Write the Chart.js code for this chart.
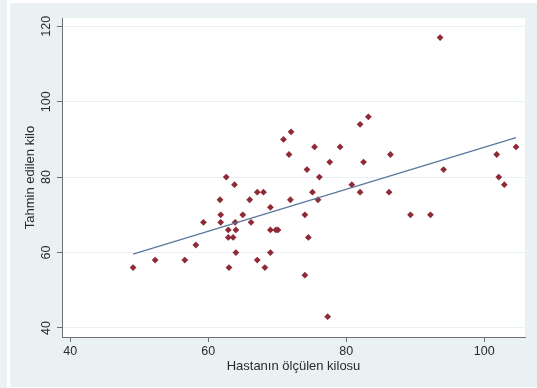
<!DOCTYPE html>
<html>
<head>
<meta charset="utf-8">
<script src="https://cdn.jsdelivr.net/npm/chart.js@4.4.1/dist/chart.umd.min.js"></script>
<style>
  html, body { margin: 0; padding: 0; background: #ffffff; }
  canvas { display: block; }
</style>
</head>
<body>
<canvas id="myChart" width="537" height="388"></canvas>
<script>
// measured weight (x) and estimated weight (y) for each patient
var olculenKilo = [
  49.1, 52.3, 56.6, 58.2, 59.3, 61.7, 61.8, 61.8, 62.6, 62.9,
  62.9, 63.0, 63.6, 63.8, 63.9, 64.0, 64.0, 65.0, 66.0, 66.2,
  67.1, 67.1, 68.0, 68.2, 69.0, 69.0, 69.0, 69.8, 70.1, 70.9,
  71.7, 72.0, 71.9, 74.0, 74.0, 74.3, 74.5, 75.1, 75.4, 75.9,
  76.1, 77.3, 77.6, 79.1, 80.8, 82.0, 82.0, 82.5, 83.2, 86.2,
  86.4, 89.3, 92.2, 93.6, 94.1, 101.8, 102.1, 102.9, 104.6
];
var tahminKilo = [
  56, 58, 58, 62, 68, 74, 70, 68, 80, 66,
  64, 56, 64, 78, 68, 66, 60, 70, 74, 68,
  76, 58, 76, 56, 72, 66, 60, 66, 66, 90,
  86, 92, 74, 70, 54, 82, 64, 76, 88, 74,
  80, 43, 84, 88, 78, 94, 76, 84, 96, 76,
  86, 70, 70, 117, 82, 86, 80, 78, 88
];

// fitted line end points
var fitX = [49.1, 104.6];
var fitY = [59.6, 90.5];

// tick labels
var xTicks = [40, 60, 80, 100];
var yTicks = [40, 60, 80, 100, 120];

var points = olculenKilo.map(function (x, i) { return { x: x, y: tahminKilo[i] }; });
var fitLine = fitX.map(function (x, i) { return { x: x, y: fitY[i] }; });

var bgColor = '#e9f1f3';
var axisColor = '#6f6f6f';
var tickFont = { family: 'Liberation Sans, Arial, sans-serif', size: 12.5 };
var titleFont = { family: 'Liberation Sans, Arial, sans-serif', size: 13 };

// paints the outer graph region and the white plot region
var backgroundPlugin = {
  id: 'graphBackground',
  beforeDraw: function (chart) {
    var c = chart.ctx, a = chart.chartArea;
    c.save();
    c.fillStyle = '#ffffff';
    c.fillRect(0, 0, chart.width, chart.height);
    c.fillStyle = bgColor;
    c.fillRect(0, 0, 7, chart.height);
    c.fillRect(10, 3, chart.width - 10, chart.height - 4);
    c.fillStyle = '#ffffff';
    c.fillRect(a.left, a.top, a.right - a.left, a.bottom - a.top);
    c.restore();
  }
};

var ctx = document.getElementById('myChart');
var myChart = new Chart(ctx, {
  type: 'scatter',
  data: {
    datasets: [{
      label: 'Tahmin edilen kilo',
      data: points,
      backgroundColor: '#8e2b37',
      borderColor: '#8e2b37',
      pointStyle: 'rectRot',
      pointRadius: 3.4,
      borderWidth: 0,
      order: 2
    },
    {
      label: 'Fitted values',
      type: 'line',
      data: fitLine,
      borderColor: '#58799e',
      borderWidth: 1.3,
      pointRadius: 0,
      fill: false,
      order: 1
    }]
  },
  options: {
    responsive: false,
    animation: false,
    layout: {
      padding: { left: 0, right: 12, top: 18, bottom: 0 }
    },
    plugins: {
      legend: { display: false },
      tooltip: { enabled: false }
    },
    scales: {
      x: {
        type: 'linear',
        min: 38.8,
        max: 105.9,
        afterFit: function (scale) { scale.height = 51; },
        afterBuildTicks: function (scale) {
          scale.ticks = xTicks.map(function (v) { return { value: v }; });
        },
        border: { color: axisColor, width: 1 },
        grid: {
          drawOnChartArea: false,
          drawTicks: true,
          tickLength: 5,
          tickColor: axisColor
        },
        ticks: {
          font: tickFont,
          color: '#2b2b2b',
          padding: 2,
          maxRotation: 0
        },
        title: {
          display: true,
          text: 'Hastanın ölçülen kilosu',
          font: titleFont,
          color: '#2b2b2b',
          padding: { top: 0, bottom: 14 }
        }
      },
      y: {
        type: 'linear',
        min: 37.6,
        max: 122.2,
        afterFit: function (scale) { scale.width = 62; },
        afterBuildTicks: function (scale) {
          scale.ticks = yTicks.map(function (v) { return { value: v }; });
        },
        border: { color: axisColor, width: 1 },
        grid: {
          color: '#eaf1f3',
          lineWidth: 1,
          drawTicks: true,
          tickLength: 5,
          tickColor: axisColor
        },
        ticks: {
          font: tickFont,
          color: '#2b2b2b',
          padding: 0,
          minRotation: 90,
          maxRotation: 90,
          crossAlign: 'center'
        },
        title: {
          display: true,
          text: 'Tahmin edilen kilo',
          font: titleFont,
          color: '#2b2b2b',
          padding: { top: 23, bottom: 0 }
        }
      }
    }
  },
  plugins: [backgroundPlugin]
});
</script>
</body>
</html>
